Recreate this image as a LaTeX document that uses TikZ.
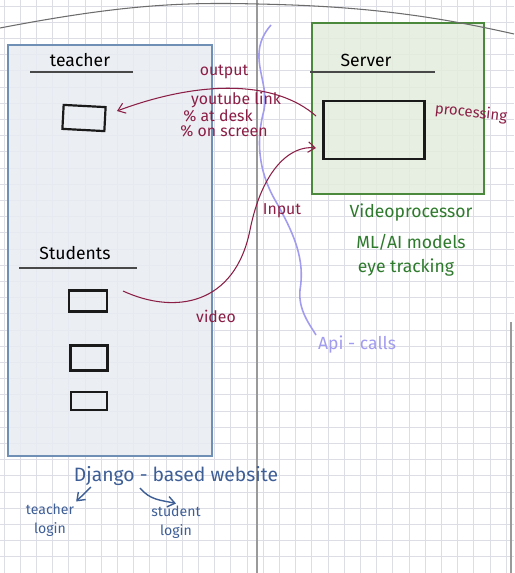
\documentclass[tikz,border=0pt]{standalone}
\usepackage{fontspec}
\setmainfont{Fira Sans}
\usetikzlibrary{arrows.meta}
\definecolor{gridc}{HTML}{DDDDE6}
\definecolor{axisc}{HTML}{9A9A9A}
\definecolor{tfill}{HTML}{E8ECF2}
\definecolor{tdraw}{HTML}{6F8FB5}
\definecolor{sfill}{HTML}{E2EDDC}
\definecolor{sdraw}{HTML}{4B8A3C}
\definecolor{maroon}{HTML}{8B1E45}
\definecolor{ink}{HTML}{1A1A1A}
\definecolor{lav}{HTML}{A29CF0}
\definecolor{grn}{HTML}{2E7A2C}
\definecolor{blu}{HTML}{3E5E96}
\tikzset{
  panel/.style={draw=#1, line width=0.9pt},
  screen/.style={draw=ink, line width=1.25pt, minimum width=#1, inner sep=0pt},
  hand/.style={font=\fontsize{9}{10}\selectfont, inner sep=1pt},
  rule/.style={draw=ink!80, line width=0.9pt},
  flow/.style={draw=maroon, line width=0.6pt, -{Straight Barb[length=4pt,width=6pt]}},
  blarrow/.style={draw=blu, line width=0.8pt, -{Straight Barb[length=4pt,width=6pt]}}
}
\begin{document}
\begin{tikzpicture}[x=0.02cm,y=-0.02cm]
\useasboundingbox (0,0) rectangle (514,573);
\fill[white] (0,0) rectangle (514,573);
% grid
\foreach \i in {0,...,31} {\draw[gridc, line width=0.4pt] (4+16.2*\i,0) -- (4+16.2*\i,573);}
\foreach \j in {0,...,35} {\draw[gridc, line width=0.4pt] (0,6+16.2*\j) -- (514,6+16.2*\j);}
% panels
\node[panel=tdraw, fill=tfill, fill opacity=0.85, draw opacity=1, minimum width=204*0.02cm, minimum height=411*0.02cm, anchor=north west, inner sep=0pt] (teacherpanel) at (7,44) {};
\node[panel=sdraw, fill=sfill, fill opacity=0.85, draw opacity=1, minimum width=172*0.02cm, minimum height=171*0.02cm, anchor=north west, inner sep=0pt] (serverpanel) at (311,22) {};
% axes
\draw[axisc, line width=0.6pt] (257,0) -- (257,573);
\draw[axisc, line width=0.6pt] (511,322) -- (511,573);
\draw[axisc!70!black, line width=0.6pt] (0,28) .. controls (120,5) and (180,2) .. (257,4) .. controls (360,6) and (430,15) .. (514,34);
% headings
\node[hand, font=\fontsize{10}{12}\selectfont] (teacherlbl) at (80,60) {teacher};
\draw[rule] (30,72) -- (133,72);
\node[hand, font=\fontsize{10}{12}\selectfont] (serverlbl) at (366,60) {Server};
\draw[rule] (310,72) -- (435,72);
\node[hand, font=\fontsize{10}{12}\selectfont] (studentslbl) at (75,253) {Students};
\draw[rule] (19,268) -- (137,268);
% screens
\node[screen=42*0.02cm, minimum height=24*0.02cm, rotate=-3] (tscreen) at (84,118) {};
\node[screen=101*0.02cm, minimum height=58*0.02cm] (sscreen) at (374,130) {};
\node[screen=38*0.02cm, minimum height=21*0.02cm] (st1) at (88,301) {};
\node[screen=37*0.02cm, minimum height=25*0.02cm] (st2) at (89,358) {};
\node[screen=36*0.02cm, minimum height=18*0.02cm] (st3) at (89,401) {};
% api wave
\coordinate (waveS) at (271,25);
\coordinate (waveE) at (316,335);
\draw[lav, line width=0.9pt] (waveS) .. controls (245,55) and (270,80) .. (264,110) .. controls (256,140) and (258,170) .. (275,200) .. controls (295,235) and (305,260) .. (300,290) .. controls (298,310) and (310,325) .. (waveE);
\node[hand, text=lav, font=\fontsize{10}{12}\selectfont, anchor=west] (api) at (316,345) {Api - calls};
% output flow
\coordinate (outS) at (316,116);
\coordinate (outE) at (117,111);
\draw[flow] (outS) .. controls (275,80) and (200,80) .. (outE);
\node[hand, text=maroon] (outlbl) at (224,72) {output};
\node[hand, text=maroon] (yt) at (236,100) {youtube link};
\node[hand, text=maroon] (desk) at (218,116) {\% at desk};
\node[hand, text=maroon] (onscr) at (224,131) {\% on screen};
\node[hand, text=maroon, rotate=-6, font=\fontsize{8.5}{10}\selectfont] (proc) at (471,113) {processing};
% input flow
\coordinate (inS) at (123,291);
\coordinate (inE) at (316,148);
\draw[flow] (inS) .. controls (175,315) and (235,305) .. (250,230) .. controls (262,170) and (290,145) .. (inE);
\node[hand, text=maroon] (inlbl) at (282,211) {Input};
\node[hand, text=maroon] (vidlbl) at (216,316) {video};
% server notes
\node[hand, text=grn, font=\fontsize{10}{12}\selectfont] (vp) at (411,213) {Videoprocessor};
\node[hand, text=grn, font=\fontsize{10}{12}\selectfont] (ml) at (411,242) {ML/AI models};
\node[hand, text=grn, font=\fontsize{10}{12}\selectfont] (eye) at (406,268) {eye tracking};
% django
\node[hand, text=blu, font=\fontsize{11}{13}\selectfont] (django) at (176,476) {Django - based website};
\node[hand, text=blu, align=center, font=\fontsize{8}{11}\selectfont] (tlogin) at (50,520) {teacher\\login};
\node[hand, text=blu, align=center, font=\fontsize{8}{11}\selectfont] (slogin) at (176,522) {student\\login};
\draw[blarrow] (91,487) -- (tlogin.north east);
\draw[blarrow] (140,488) .. controls (150,500) and (160,500) .. (slogin.north);
\end{tikzpicture}
\end{document}
